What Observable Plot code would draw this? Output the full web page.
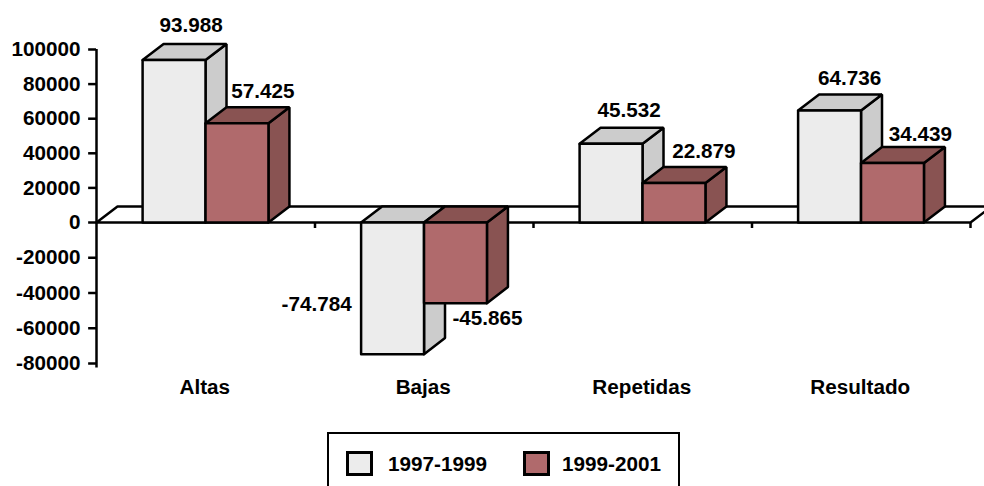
<!DOCTYPE html>
<html lang="es">
<head>
<meta charset="utf-8">
<script src="https://cdn.jsdelivr.net/npm/d3@7"></script>
<script src="https://cdn.jsdelivr.net/npm/@observablehq/plot@0.6"></script>
<style>
html,body{margin:0;padding:0;background:#fff;width:984px;height:486px;overflow:hidden}
body,svg{font-family:"Liberation Sans",Arial,sans-serif}
svg{display:block}
#legend{box-sizing:border-box;margin-left:327px;width:353px;height:54px;border:2px solid #000;border-bottom:none;display:flex;align-items:center;position:relative;font:bold 20.7px "Liberation Sans",Arial,sans-serif;color:#000}
#legend .sw{position:absolute;top:17px;width:27px;height:25px;box-sizing:border-box;border:3px solid #000}
#legend .tx{position:absolute;top:18px;line-height:24px}
</style>
</head>
<body>
<div id="chart"></div>
<div id="legend"></div>
<script>
const categories = ["Altas", "Bajas", "Repetidas", "Resultado"];
const seriesNames = ["1997-1999", "1999-2001"];
const values1997 = [93988, -74784, 45532, 64736];
const values1999 = [57425, -45865, 22879, 34439];
const yTicks = [100000, 80000, 60000, 40000, 20000, 0, -20000, -40000, -60000, -80000];

const frontColors = ["#ececec", "#b06a6c"];
const shadeColors = ["#cccccc", "#895352"];

// extrusion of the pseudo-3D look, in data units
const depthX = 0.096, depthY = 9250;
const barW = 0.288;
const n = categories.length;

const fmt = d3.formatLocale({decimal: ",", thousands: ".", grouping: [3], currency: ["", ""], minus: "-"}).format(",");

const polys = [];
function poly(id, fill, pts) {
  [...pts, pts[0]].forEach(([x, y]) => polys.push({id, fill, x, y}));
}
// floor plane at zero
poly("floor", "#ffffff", [[0, 0], [n, 0], [n + depthX, depthY], [depthX, depthY]]);

const labels = [];
const series = [values1997, values1999];
const labelOffsets = [
  [[17, -35], [26, -32]],
  [[-76, -50], [32, 15]],
  [[18, -33], [30, -32]],
  [[20, -32], [28, -29]]
];
categories.forEach((c, i) => {
  series.forEach((vals, s) => {
    const v = vals[i];
    const x0 = i + 0.5 + (s - 1) * barW - 0.001;
    const x1 = x0 + barW;
    const yTop = Math.max(v, 0), yBot = Math.min(v, 0);
    const id = `${i}-${s}`;
    poly(id + "side", shadeColors[s], [[x1, yBot], [x1 + depthX, yBot + depthY], [x1 + depthX, yTop + depthY], [x1, yTop]]);
    poly(id + "top", shadeColors[s], [[x0, yTop], [x0 + depthX, yTop + depthY], [x1 + depthX, yTop + depthY], [x1, yTop]]);
    poly(id + "front", frontColors[s], [[x0, yBot], [x0, yTop], [x1, yTop], [x1, yBot]]);
    labels.push({x: (x0 + x1) / 2, y: v, t: fmt(v), o: labelOffsets[i][s]});
  });
});

const bold = {fontWeight: "bold", fontSize: 20.7, fill: "#000"};

const chart = Plot.plot({
  width: 984,
  height: 432,
  marginLeft: 96,
  marginRight: 14,
  marginTop: 0,
  marginBottom: 0,
  x: {type: "linear", domain: [0, n], range: [96, 970], axis: null},
  y: {type: "linear", domain: [-80000, 0, 100000], range: [363, 222, 49], axis: null},
  marks: [
    Plot.line(polys, {x: "x", y: "y", z: "id", fill: "fill", stroke: "#000", strokeWidth: 2.5, strokeLinejoin: "miter", curve: "linear"}),
    Plot.ruleX([0], {y1: -82500, y2: 100000, stroke: "#000", strokeWidth: 2.5}),
    Plot.ruleY(yTicks, {x1: 0, x2: -0.036, stroke: "#000", strokeWidth: 2.5}),
    Plot.ruleX(d3.range(1, n + 1), {y1: 0, y2: -3400, stroke: "#000", strokeWidth: 2.5}),
    Plot.text(yTicks, {x: 0, y: d => d, text: d => String(d), dx: -16, textAnchor: "end", ...bold}),
    Plot.text(categories, {x: (d, i) => i + 0.5, y: -80000, text: d => d, dy: 24, dx: -1, ...bold}),
    ...labels.map(l => Plot.text([l], {x: "x", y: "y", text: "t", dx: l.o[0], dy: l.o[1], ...bold}))
  ]
});
document.getElementById("chart").append(chart);

const legend = document.getElementById("legend");
const swX = [17, 194], txX = [59, 233];
seriesNames.forEach((name, s) => {
  const sw = document.createElement("span");
  sw.className = "sw";
  sw.style.left = swX[s] + "px";
  sw.style.background = frontColors[s];
  const tx = document.createElement("span");
  tx.className = "tx";
  tx.style.left = txX[s] + "px";
  tx.textContent = name;
  legend.append(sw, tx);
});
</script>
</body>
</html>
